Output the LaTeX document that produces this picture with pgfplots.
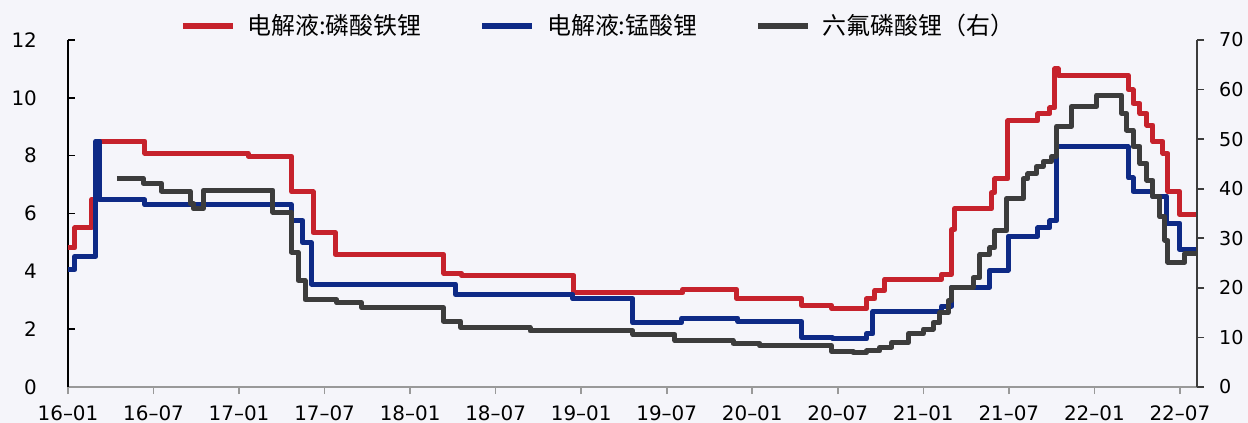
\documentclass[border=0pt]{standalone}
\usepackage{fontspec}
\setmainfont{DejaVu Sans}
\newfontfamily\cjk{Noto Sans CJK SC}
\usepackage{pgfplots}
\pgfplotsset{compat=1.18}
\definecolor{cred}{RGB}{198,34,44}
\definecolor{cblue}{RGB}{14,42,134}
\definecolor{cgray}{RGB}{60,60,60}
\definecolor{bgc}{RGB}{245,245,250}
\begin{document}
\begin{tikzpicture}
\fill[bgc] (-34bp,-18bp) rectangle (590bp,193.5bp);
\begin{axis}[
  scale only axis, width=564.5bp, height=173.5bp,
  at={(0,0)}, anchor=south west,
  xmin=0, xmax=79.2, ymin=0, ymax=12,
  axis y line*=left, axis x line*=bottom,
  axis line style={-},
  x axis line style={draw=gray!80, line width=0.8bp},
  y axis line style={draw=black, line width=0.9bp},
  xtick={0,6,...,78},
  xticklabels={16--01,16--07,17--01,17--07,18--01,18--07,19--01,19--07,20--01,20--07,21--01,21--07,22--01,22--07},
  ytick={0,2,...,12},
  tick align=inside,
  major tick length=3.5bp,
  xtick style={draw=gray!80, line width=0.8bp, yshift=-3.5bp},
  ytick style={draw=black, line width=0.8bp},
  /pgf/number format/assume math mode=true,
  tick label style={font=\fontsize{10}{12}\selectfont},
  yticklabel style={xshift=-11bp},
  xticklabel style={yshift=-5bp},
  legend columns=3,
  legend style={at={(0.097,1.04)}, anchor=west, draw=none, fill=none, inner sep=0pt,
    font=\fontsize{12}{14}\selectfont\cjk,
    /tikz/every odd column/.append style={column sep=4bp},
    /tikz/every even column/.append style={column sep=27bp}},
  legend image code/.code={\draw[#1, line width=2.8bp] (0bp,0bp) -- (25bp,0bp);},
  line width=2.5bp,
]
\addplot[cred, const plot, line join=round] coordinates {
(0,4.81) (0.49,5.5) (1.68,6.5) (2.08,8.5) (5.40,8.08) (12.63,7.98) (15.69,6.75) (17.19,5.34) (18.76,4.58) (26.37,3.93) (27.62,3.86) (35.49,3.27) (43.14,3.38) (46.9,3.07) (51.47,2.82) (53.57,2.71) (56.03,3.05) (56.6,3.33) (57.3,3.73) (61.29,3.9) (61.99,5.45) (62.2,6.17) (64.79,6.72) (65.02,7.2) (65.94,9.2) (68.04,9.45) (68.88,9.65) (69.23,11.0) (69.45,10.78) (74.38,10.28) (74.71,9.81) (75.2,9.46) (75.69,9.06) (76.11,8.49) (76.81,8.08) (77.16,6.76) (78.0,5.96) (79.2,5.96)
};
\addlegendentry{电解液:磷酸铁锂}
\addplot[cblue, const plot, line join=round] coordinates {
(0,4.06) (0.49,4.52) (1.96,8.5) (2.24,6.47) (5.40,6.3) (15.69,5.75) (16.48,4.99) (17.09,3.56) (27.18,3.2) (35.42,3.05) (39.63,2.22) (43.05,2.38) (47.0,2.26) (51.47,1.7) (53.66,1.66) (56.03,1.84) (56.47,2.61) (61.29,2.8) (61.99,3.45) (64.67,4.04) (65.96,5.22) (68.04,5.5) (68.88,5.75) (69.35,8.3) (74.38,7.23) (74.71,6.76) (76.11,6.6) (77.07,5.67) (78.0,4.75) (79.2,4.75)
};
\addlegendentry{电解液:锰酸锂}
\addlegendimage{cgray}
\addlegendentry{六氟磷酸锂（右）}
\end{axis}
\begin{axis}[
  scale only axis, width=564.5bp, height=173.5bp,
  at={(0,0)}, anchor=south west,
  xmin=0, xmax=79.2, ymin=0, ymax=70,
  axis x line=none, axis y line*=right,
  axis line style={-},
  y axis line style={draw=cgray, line width=0.9bp},
  ytick={0,10,...,70},
  tick align=outside,
  major tick length=3.5bp,
  ytick style={draw=cgray, line width=0.8bp},
  /pgf/number format/assume math mode=true,
  tick label style={font=\fontsize{9.6}{12}\selectfont},
  yticklabel style={xshift=3bp},
  line width=2.5bp,
]
\addplot[cgray, const plot, line join=round] coordinates {
(3.42,42.1) (5.28,41.1) (6.57,39.5) (8.56,37.0) (8.79,36.0) (9.49,39.7) (14.38,35.3) (15.69,27.2) (16.15,21.5) (16.63,17.6) (18.85,17.0) (20.6,16.0) (26.33,13.3) (27.54,12.0) (32.41,11.3) (39.63,10.6) (42.58,9.4) (46.65,8.8) (48.54,8.3) (53.57,7.2) (55.07,6.9) (56.03,7.3) (56.96,8.0) (57.78,9.0) (58.95,10.7) (60.0,11.7) (60.7,13.0) (61.17,15.0) (61.75,17.4) (61.99,20.1) (63.5,22.0) (63.97,26.7) (64.67,28.1) (65.02,31.5) (65.85,38.0) (67.01,42.0) (67.34,43.0) (67.95,44.5) (68.41,45.5) (69.0,46.5) (69.35,52.6) (70.4,56.6) (72.16,58.9) (73.92,55.2) (74.27,51.8) (74.71,48.5) (75.2,45.1) (75.69,41.7) (76.11,38.4) (76.6,34.3) (76.95,29.6) (77.16,25.2) (78.35,26.9) (79.2,27.2)
};
\end{axis}
\pgfresetboundingbox
\path[use as bounding box] (-34bp,-18bp) rectangle (590bp,193.5bp);
\end{tikzpicture}
\end{document}
